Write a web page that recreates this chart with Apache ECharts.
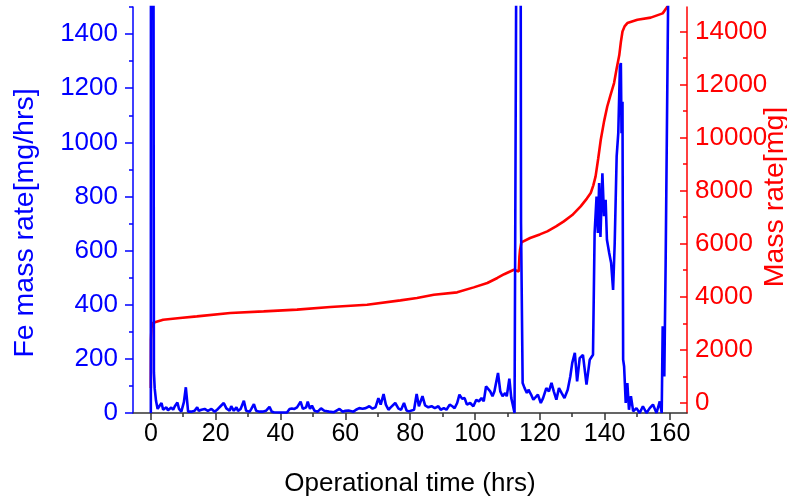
<!DOCTYPE html>
<html>
<head>
<meta charset="utf-8">
<script src="https://cdn.jsdelivr.net/npm/echarts@6/dist/echarts.min.js"></script>
<style>
html,body{margin:0;padding:0;background:#fff;}
#chart{width:787px;height:502px;}
</style>
</head>
<body>
<div id="chart"></div>
<script>
// ---- data ----
const feTime = [0,0.05,0.75,0.95,1.2,1.6,2.1,2.6,3.3,3.8,4.3,4.8,5.3,5.8,6.3,6.9,7.4,8.2,8.7,9.4,10.2,10.8,11.5,12.5,13.5,14.3,14.8,15.6,16.6,17.6,18.7,19.7,20.7,21.5,22.5,23.3,24.3,24.8,25.6,26.4,26.9,27.7,28.7,29.4,30.5,31,31.8,32.5,33.5,34.5,35.5,36.6,37.3,38,40,42,42.8,43.5,44.3,45.1,46.2,46.9,47.9,48.4,49.1,49.7,50.5,51.5,52.5,53.5,55,56.5,58.2,59.2,60,61,62.5,63.3,64.3,65.3,66.3,67.4,68.4,69.3,70.2,70.9,71.8,72.5,73.3,74,75.4,76.4,77.2,78.1,78.9,79.6,81.2,82,82.7,83.8,84.6,85.6,86.6,87.6,88.7,89.4,90.4,91.2,92.2,93,93.7,94.5,95.2,96,96.8,97.5,98.5,99.5,100.4,101.2,102,102.7,103.4,104,104.7,105.4,106,107.1,107.8,108.5,109.3,109.8,110.6,111.2,111.6,112.2,112.8,113.0,114.0,114.2,114.7,115.3,116.0,116.5,117.3,118,118.6,119.4,120.3,121,122,122.8,123.6,124.3,125.1,125.9,126.7,127.6,128.6,129.4,130,130.8,131.5,132.3,133.3,134.4,135.4,136.4,136.9,137.5,137.9,138.3,138.7,139.3,139.8,140.3,140.7,141.4,142,142.6,143.1,143.7,144.2,144.7,145,145.2,145.5,145.7,146,146.5,147,147.5,148.1,148.8,149.8,150.8,151.8,152.9,153.9,154.9,156,157,157.6,157.9,158.4,158.8,159.6];
const feRate = [0,2500,2500,150,90,45,15,25,37,12,8,21,10,15,20,12,25,39,15,5,40,95,5,5,8,21,8,12,15,8,15,5,15,25,37,17,8,25,8,21,8,15,45,8,5,15,33,8,5,5,8,23,5,3,2,2,15,17,15,21,42,15,21,42,15,27,8,5,17,8,5,3,15,5,8,9,5,12,18,16,18,25,16,21,55,31,70,31,12,21,37,16,12,37,9,6,12,70,25,62,28,21,25,18,25,12,18,12,31,25,18,37,68,53,55,31,37,25,49,43,55,43,98,92,80,62,80,148,80,62,74,62,127,55,33,0,0,2500,2500,700,111,92,74,86,68,49,43,68,37,55,92,80,111,80,49,92,74,55,86,135,185,222,117,203,215,105,197,215,665,800,665,850,650,886,727,788,640,591,554,455,628,948,1034,1280,1293,1034,1150,197,172,37,111,12,62,6,18,0,25,0,18,31,0,43,0,320,135,541,1550];

const massTime = [0,0.05,0.2,0.6,1.5,3.8,9,14.2,24.5,34.8,45.1,55.4,66.7,77,82.1,87.3,94.5,99.6,103.8,106.9,109,112,113.5,113.7,113.9,114.3,117,120,122.3,125,127.4,130,132.6,134.5,135.7,136.5,137.2,138,138.8,139.8,140.8,141.8,142.9,143.7,144.5,145,145.5,146.2,147,150.1,154.2,157.9,158.9,159.4];
const massVal  = [565,2384,2825,3013,3050,3137,3201,3262,3390,3450,3514,3616,3702,3865,3955,4079,4166,4354,4520,4708,4850,5020,4950,5500,5774,6049,6215,6350,6463,6650,6840,7080,7405,7700,7910,8200,8535,9200,9917,10600,11171,11600,12053,12600,13100,13600,13996,14200,14313,14437,14520,14680,14850,14950];

const xTicks = [0,20,40,60,80,100,120,140,160];
const xMinorTicks = [10,30,50,70,90,110,130,150];
const leftTicks = [0,200,400,600,800,1000,1200,1400];
const leftMinorTicks = [100,300,500,700,900,1100,1300,1500];
const rightTicks = [0,2000,4000,6000,8000,10000,12000,14000];
const rightMinorTicks = [1000,3000,5000,7000,9000,11000,13000];

const X_MIN = -5.5, X_MAX = 165.4;
const L_MIN = 0, L_MAX = 1500;
const R_MIN = -380, R_MAX = 14920;

const FONT = 'Liberation Sans, Arial, sans-serif';
const BLUE = '#0000ff';
const RED = '#ff0000';

const fe = feTime.map((t, i) => [t, feRate[i]]);
const mass = massTime.map((t, i) => [t, massVal[i]]);

const chart = echarts.init(document.getElementById('chart'), null, {renderer: 'canvas'});

const hidden = {show: false};
chart.setOption({
  animation: false,
  backgroundColor: '#ffffff',
  grid: {left: 133, right: 100, top: 7, bottom: 89, containLabel: false, outerBoundsMode: 'none'},
  xAxis: [
    {
      type: 'value', min: X_MIN, max: X_MAX, position: 'bottom',
      name: 'Operational time (hrs)', nameLocation: 'middle', nameGap: 58, nameMoveOverlap: false,
      nameTextStyle: {fontFamily: FONT, fontSize: 26, color: '#000'},
      axisLine: {show: true, onZero: false, lineStyle: {color: '#333', width: 1.5}},
      axisTick: {show: true, length: 7, inside: false, customValues: xTicks, lineStyle: {color: '#333', width: 1.5}},
      axisLabel: {show: true, customValues: xTicks, margin: 9, fontFamily: FONT, fontSize: 25, color: '#000', formatter: v => String(v)},
      splitLine: hidden
    },
    {
      type: 'value', min: X_MIN, max: X_MAX, position: 'bottom',
      axisLine: {show: false, onZero: false},
      axisTick: {show: true, length: 4, customValues: xMinorTicks, lineStyle: {color: '#333', width: 1.5}},
      axisLabel: hidden, splitLine: hidden
    }
  ],
  yAxis: [
    {
      type: 'value', min: L_MIN, max: L_MAX, position: 'left',
      name: 'Fe mass rate[mg/hrs]', nameLocation: 'middle', nameGap: 93, nameRotate: 90, nameMoveOverlap: false,
      nameTextStyle: {fontFamily: FONT, fontSize: 28.5, color: BLUE, padding: [0, 26, 0, 0]},
      axisLine: {show: true, onZero: false, lineStyle: {color: BLUE, width: 1.5}},
      axisTick: {show: true, length: 8, customValues: leftTicks, lineStyle: {color: BLUE, width: 1.5}},
      axisLabel: {show: true, customValues: leftTicks, margin: 15, fontFamily: FONT, fontSize: 26, color: BLUE, formatter: v => String(v)},
      splitLine: hidden
    },
    {
      type: 'value', min: R_MIN, max: R_MAX, position: 'right',
      name: 'Mass rate[mg]', nameLocation: 'middle', nameGap: 74, nameRotate: 90, nameMoveOverlap: false,
      nameTextStyle: {fontFamily: FONT, fontSize: 28.5, color: RED, padding: [0, 0, 0, 26]},
      axisLine: {show: true, onZero: false, lineStyle: {color: RED, width: 1.5}},
      axisTick: {show: true, inside: true, length: 7, customValues: rightTicks, lineStyle: {color: RED, width: 1.5}},
      axisLabel: {show: true, customValues: rightTicks, margin: 8, fontFamily: FONT, fontSize: 26, color: RED, formatter: v => String(v)},
      splitLine: hidden
    },
    {
      type: 'value', min: L_MIN, max: L_MAX, position: 'left',
      axisLine: {show: false, onZero: false},
      axisTick: {show: true, length: 4, customValues: leftMinorTicks, lineStyle: {color: BLUE, width: 1.5}},
      axisLabel: hidden, splitLine: hidden
    },
    {
      type: 'value', min: R_MIN, max: R_MAX, position: 'right',
      axisLine: {show: false, onZero: false},
      axisTick: {show: true, inside: true, length: 4, customValues: rightMinorTicks, lineStyle: {color: RED, width: 1.5}},
      axisLabel: hidden, splitLine: hidden
    }
  ],
  series: [
    {
      name: 'Mass', type: 'line', xAxisIndex: 0, yAxisIndex: 1, data: mass,
      showSymbol: false, symbol: 'none', clip: true,
      lineStyle: {color: RED, width: 2.6}, z: 2
    },
    {
      name: 'Fe', type: 'line', xAxisIndex: 0, yAxisIndex: 0, data: fe,
      showSymbol: false, symbol: 'none', clip: true,
      lineStyle: {color: BLUE, width: 2.6}, z: 3
    }
  ]
});
</script>
</body>
</html>
